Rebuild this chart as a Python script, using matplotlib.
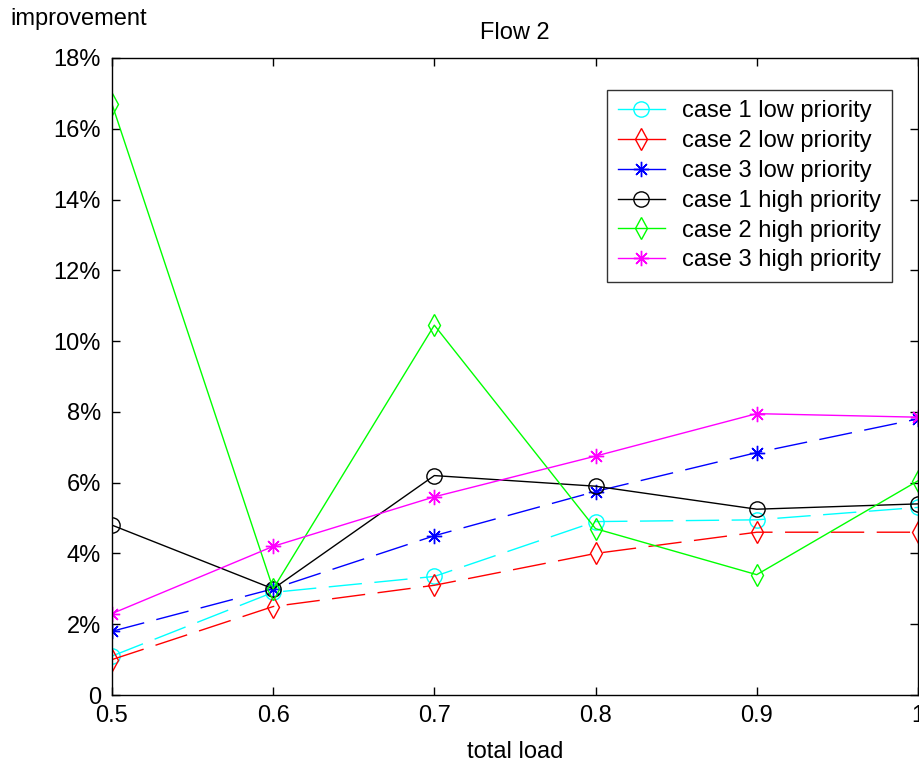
import matplotlib
matplotlib.use("Agg")
import matplotlib.pyplot as plt

plt.rcParams['font.family'] = ['Liberation Sans', 'DejaVu Sans']

load = [0.5, 0.6, 0.7, 0.8, 0.9, 1.0]

# improvement in percent
case1_low = [1.1, 2.9, 3.35, 4.9, 4.95, 5.3]
case2_low = [1.0, 2.5, 3.1, 4.0, 4.6, 4.6]
case3_low = [1.8, 3.0, 4.5, 5.75, 6.85, 7.8]
case1_high = [4.8, 3.0, 6.2, 5.9, 5.25, 5.4]
case2_high = [16.7, 3.0, 10.45, 4.7, 3.4, 6.05]
case3_high = [2.3, 4.2, 5.6, 6.75, 7.95, 7.85]

series = [
    (case1_low, 'case 1 low priority', 'cyan', 'o', True),
    (case2_low, 'case 2 low priority', 'red', 'd', True),
    (case3_low, 'case 3 low priority', 'blue', (8, 2, 0), True),
    (case1_high, 'case 1 high priority', 'black', 'o', False),
    (case2_high, 'case 2 high priority', '#00ff00', 'd', False),
    (case3_high, 'case 3 high priority', 'magenta', (8, 2, 0), False),
]

yticks = [0, 2, 4, 6, 8, 10, 12, 14, 16, 18]
ytick_labels = ['0'] + ['%d%%' % v for v in yticks[1:]]
xticks = [0.5, 0.6, 0.7, 0.8, 0.9, 1.0]
xtick_labels = ['0.5', '0.6', '0.7', '0.8', '0.9', '1']

fig = plt.figure(figsize=(9.2, 7.7), dpi=100)
ax = fig.add_axes([0.1217, 0.0974, 0.876, 0.8273])

for vals, name, col, mk, dashed in series:
    line, = ax.plot(load, vals, color=col, marker=mk, markersize=11,
                    markerfacecolor='none', markeredgecolor=col,
                    markeredgewidth=1.0, linewidth=1.0, label=name)
    if dashed:
        line.set_dashes((24, 9))

ax.set_xlim(0.5, 1.0)
ax.set_ylim(0, 18)
ax.set_xticks(xticks)
ax.set_xticklabels(xtick_labels)
ax.set_yticks(yticks)
ax.set_yticklabels(ytick_labels)
ax.tick_params(direction='in', length=6, width=1, top=True, right=True,
               labelsize=17)
ax.tick_params(axis='x', pad=7)
ax.tick_params(axis='y', pad=8)
for sp in ax.spines.values():
    sp.set_linewidth(1.0)

ax.set_title('Flow 2', fontsize=17, pad=14)
ax.set_xlabel('total load', fontsize=17, labelpad=10)
fig.text(0.011, 0.975, 'improvement', fontsize=17, va='center', ha='left')

leg = ax.legend(loc='upper right', bbox_to_anchor=(0.968, 0.95),
                borderaxespad=0, fontsize=17, numpoints=1, fancybox=False,
                handlelength=2.0, labelspacing=0.33, borderpad=0.45,
                handletextpad=0.75)
leg.get_frame().set_edgecolor('black')
leg.get_frame().set_linewidth(1.0)
for h in leg.get_lines():
    h.set_linestyle('-')

fig.savefig('out.png', dpi=100)
